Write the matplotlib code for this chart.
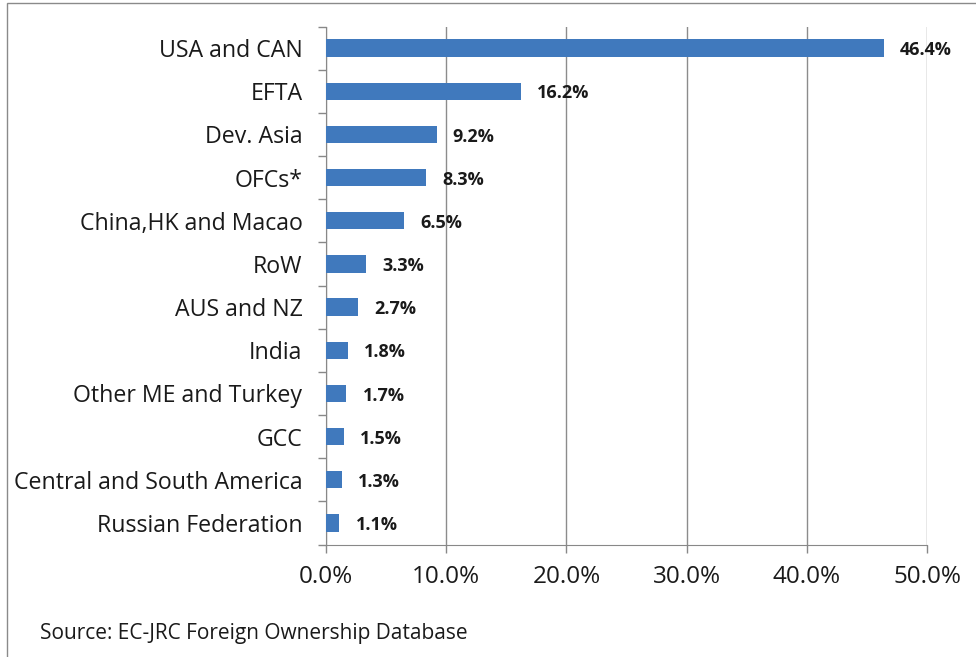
import numpy as np
import matplotlib.pyplot as plt
from matplotlib.patches import Rectangle

# data, top to bottom as shown
regions = ["USA and CAN", "EFTA", "Dev. Asia", "OFCs*", "China,HK and Macao", "RoW",
           "AUS and NZ", "India", "Other ME and Turkey", "GCC",
           "Central and South America", "Russian Federation"]
shares = [46.4, 16.2, 9.2, 8.3, 6.5, 3.3, 2.7, 1.8, 1.7, 1.5, 1.3, 1.1]
xticks = [0, 10, 20, 30, 40, 50]

plt.rcParams['font.family'] = ['Open Sans', 'DejaVu Sans']

fig = plt.figure(figsize=(9.76, 6.57), dpi=100)
W, H = 976, 657
ax = fig.add_axes([326 / W, 1 - 544.5 / H, (927 - 326) / W, (544.5 - 26.5) / H])

y = np.arange(len(regions))
ax.barh(y, shares, height=0.4, color='#4079BD', zorder=3)
ax.set_ylim(len(regions) - 0.5, -0.5)
ax.set_xlim(0, 50)

for yi, v in zip(y, shares):
    ax.text(v + 1.35, yi + 0.05, f"{v:.1f}%", va='center', ha='left',
            fontsize=13, fontweight='bold', color='#1a1a1a', zorder=4)

# category labels, ticks at boundaries (Excel style)
ax.set_yticks(y)
ax.set_yticklabels(regions, fontsize=16.7, color='#1a1a1a')
ax.tick_params(axis='y', length=0, pad=17)
ax.set_yticks(np.arange(-0.5, len(regions), 1), minor=True)
ax.tick_params(axis='y', which='minor', length=6, color='#888888', width=1)

ax.set_xticks(xticks)
ax.set_xticklabels([f"{t:.1f}%" for t in xticks], fontsize=17.5, color='#1a1a1a')
ax.tick_params(axis='x', length=6, color='#888888', width=1, pad=9)

ax.grid(axis='x', color='#8c8c8c', lw=1, zorder=0)
for s in ['top', 'right']:
    ax.spines[s].set_visible(False)
ax.spines['left'].set_color('#888888')
ax.spines['bottom'].set_color('#888888')

fig.text(40 / W, 1 - 633 / H, "Source: EC-JRC Foreign Ownership Database",
         fontsize=15, color='#1a1a1a', va='center', ha='left')

# outer frame
fig.patches.append(Rectangle((7 / W, -0.1), 1.1, 1 - 3 / H + 0.1, transform=fig.transFigure,
                             fill=False, edgecolor='#8a8a8a', lw=1))

fig.savefig('out.png', dpi=100)
